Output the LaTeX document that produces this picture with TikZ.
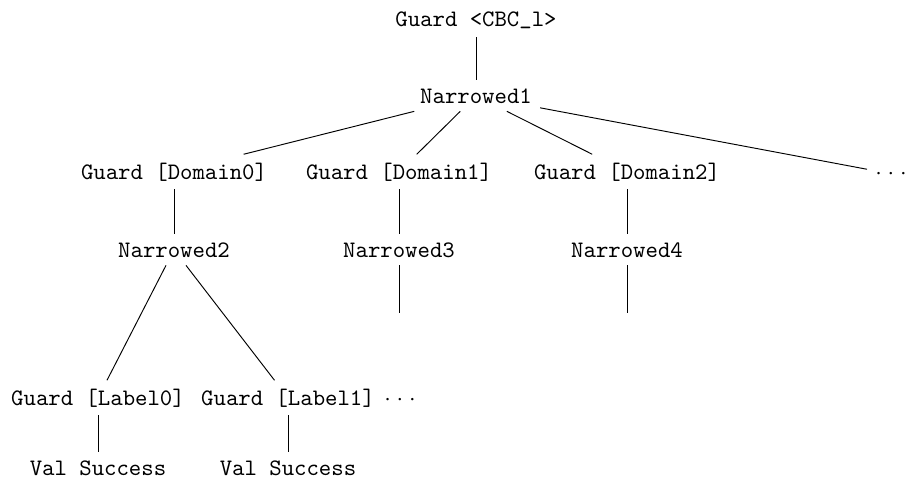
\documentclass[tikz,border=0pt]{standalone}
\usepackage[OT1]{fontenc}
\renewcommand\ttdefault{cmtt}
\newcommand\treedots{${\cdotp}\kern2.47pt{\cdotp}\kern2.47pt{\cdotp}$}
\tikzset{
  lbl/.style={font=\ttfamily, anchor=base, inner sep=3.33pt},
  branch/.style={draw=black, line width=0.4pt},
}
\begin{document}
\begin{tikzpicture}[x=0.4234pt, y=-0.4234pt]
  \useasboundingbox (0,0) rectangle (909,488);

  % level 0 and 1
  \node[lbl] (root) at (476,26.5) {Guard <CBC{\char95}l>};
  \node[lbl] (n1)   at (476,103)  {Narrowed1};

  % level 2
  \node[lbl] (d0)    at (174,179) {Guard [Domain0]};
  \node[lbl] (d1)    at (399,179) {Guard [Domain1]};
  \node[lbl] (d2)    at (627,179) {Guard [Domain2]};
  \node[lbl] (dmore) at (891,179) {\treedots};

  % level 3
  \node[lbl] (n2) at (174,257) {Narrowed2};
  \node[lbl] (n3) at (399,257) {Narrowed3};
  \node[lbl] (n4) at (627,257) {Narrowed4};
  \coordinate (n3end) at (399,313);
  \coordinate (n4end) at (627,313);

  % level 4
  \node[lbl] (l0)    at (98,405)  {Guard [Label0]};
  \node[lbl] (l1)    at (288,405) {Guard [Label1]};
  \node[lbl] (lmore) at (400,405) {\treedots};

  % leaves
  \node[lbl] (v0) at (98,475)  {Val Success};
  \node[lbl] (v1) at (288,475) {Val Success};

  % branches
  \draw[branch] (root) -- (n1);
  \draw[branch] (n1) -- (d0);
  \draw[branch] (n1) -- (d1);
  \draw[branch] (n1) -- (d2);
  \draw[branch] (n1) -- (dmore);
  \draw[branch] (d0) -- (n2);
  \draw[branch] (d1) -- (n3);
  \draw[branch] (d2) -- (n4);
  \draw[branch] (n3) -- (n3end);
  \draw[branch] (n4) -- (n4end);
  \draw[branch] (n2) -- (l0);
  \draw[branch] (n2) -- (l1);
  \draw[branch] (l0) -- (v0);
  \draw[branch] (l1) -- (v1);
\end{tikzpicture}
\end{document}
